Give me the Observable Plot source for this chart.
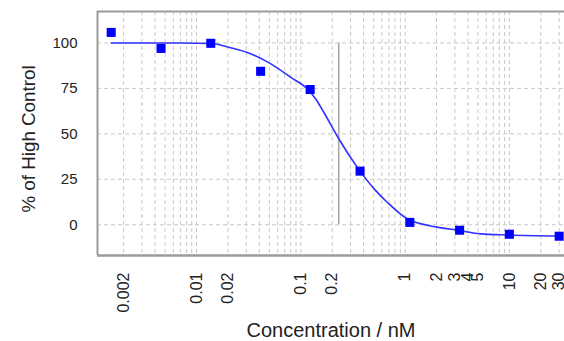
<!DOCTYPE html>
<html>
<head>
<meta charset="utf-8">
<script src="https://cdn.jsdelivr.net/npm/d3@7"></script>
<script src="https://cdn.jsdelivr.net/npm/@observablehq/plot@0.6"></script>
<style>
  html, body { margin: 0; padding: 0; background: #fff; }
  #chart { width: 564px; height: 341px; overflow: hidden; }
</style>
</head>
<body>
<div id="chart"></div>
<script>
// Measured points (concentration in nM, % of high control)
const conc = [0.00152, 0.00457, 0.0137, 0.0412, 0.123, 0.370, 1.11, 3.33, 10, 30];
const pct  = [105.8, 97.0, 99.8, 84.4, 74.4, 29.5, 1.3, -3.0, -5.2, -6.3];

// Fitted curve
const curveConc = [0.00152, 0.00703, 0.01393, 0.0212, 0.0330, 0.0512, 0.0796, 0.115, 0.1384, 0.166, 0.231, 0.347, 0.520, 0.673, 1.047, 2.03, 3.27, 5.28, 9.8, 30];
const curvePct  = [100, 100, 99.7, 97.4, 94.1, 88.6, 81.2, 74.8, 69.3, 61.9, 47.3, 31.7, 18.9, 12.4, 3.3, -1.3, -3.1, -5.0, -5.6, -6.2];

// IC50 marker
const ic50 = [0.231];

// Axis ticks
const xTicks = [0.002, 0.01, 0.02, 0.1, 0.2, 1, 2, 3, 4, 5, 10, 20, 30];
const xTickLabels = ["0.002", "0.01", "0.02", "0.1", "0.2", "1", "2", "3", "4", "5", "10", "20", "30"];
const yTicks = [0, 25, 50, 75, 100];
const xTitle = "Concentration / nM";
const yTitle = "% of High Control";

// minor log grid (1..9 per decade)
const gridX = [];
for (let e = -3; e <= 1; e++) for (let m = 1; m <= 9; m++) {
  const v = m * Math.pow(10, e);
  if (v > 0.0012 && v < 33) gridX.push(+v.toPrecision(3));
}

const points = conc.map((c, i) => ({c, p: pct[i]}));
const curve = curveConc.map((c, i) => ({c, p: curvePct[i]}));
const xLabels = xTicks.map((v, i) => ({v, t: xTickLabels[i]}));

const font = "'Liberation Sans', Arial, sans-serif";
const gridStyle = {stroke: "#c8c8c8", strokeWidth: 1, strokeDasharray: "4,3"};

const chart = Plot.plot({
  width: 564,
  height: 341,
  marginTop: 11,
  marginBottom: 86,
  marginLeft: 97,
  marginRight: 0,
  style: {fontFamily: font, color: "#222", background: "#fff"},
  x: {type: "log", domain: [0.0011237, 33.75], axis: null},
  y: {domain: [-16.9, 117.3]},
  marks: [
    Plot.ruleX(gridX, gridStyle),
    Plot.ruleY(yTicks, gridStyle),
    Plot.ruleX(ic50, {y1: 0, y2: 100, stroke: "#a8a8a8", strokeWidth: 1.6}),
    Plot.line(curve, {x: "c", y: "p", stroke: "#3030ff", strokeWidth: 1.6, curve: "monotone-x"}),
    Plot.dot(points, {x: "c", y: "p", symbol: "square", r: 5.1, fill: "#0000ff", stroke: "none"}),
    Plot.axisY({ticks: yTicks, tickSize: 0, tickPadding: 20, fontSize: 15, label: null}),
    Plot.text(xLabels, {x: "v", text: "t", frameAnchor: "bottom", rotate: -90, textAnchor: "end", lineAnchor: "middle", dy: 17, fontSize: 16, fill: "#222"}),
    Plot.text([yTitle], {frameAnchor: "left", rotate: -90, textAnchor: "middle", lineAnchor: "middle", dx: -69, dy: 5.5, fontSize: 18.8, fill: "#222"}),
    Plot.text([xTitle], {frameAnchor: "bottom", textAnchor: "middle", lineAnchor: "middle", dy: 75, fontSize: 20, fill: "#222"}),
    // frame: left, top, bottom
    Plot.ruleX([0.0011237], {stroke: "#9a9a9a", strokeWidth: 2}),
    Plot.ruleY([117.3], {stroke: "#9a9a9a", strokeWidth: 2}),
    Plot.ruleY([-16.9], {stroke: "#9a9a9a", strokeWidth: 2.5})
  ]
});
document.getElementById("chart").appendChild(chart);
</script>
</body>
</html>
